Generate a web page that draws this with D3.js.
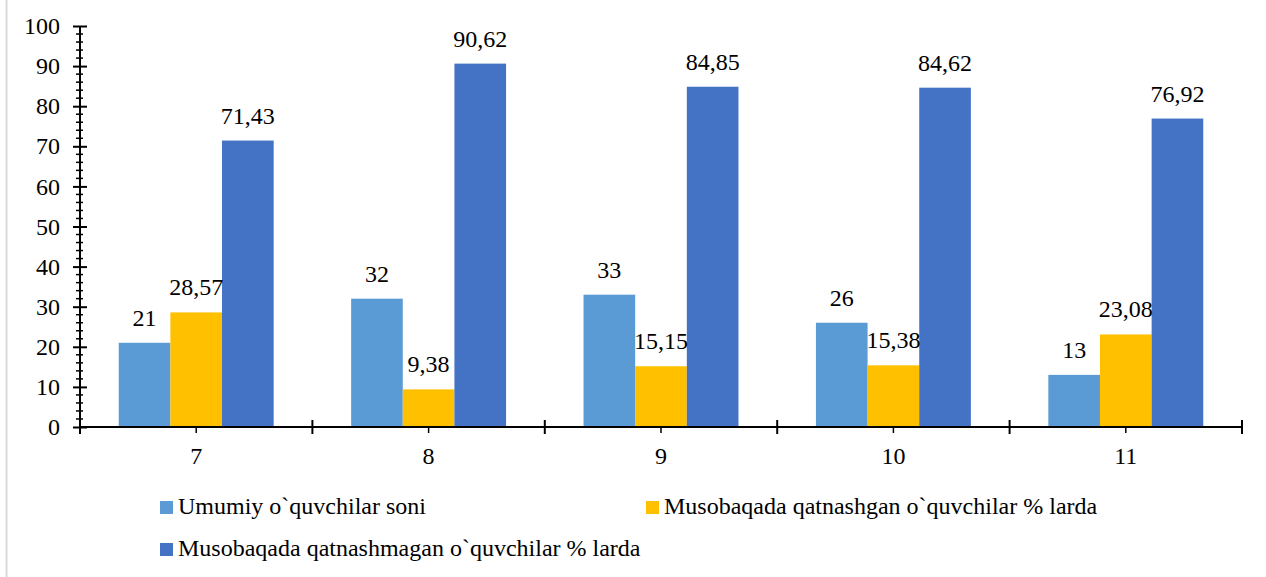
<!DOCTYPE html>
<html>
<head>
<meta charset="utf-8">
<script src="https://cdn.jsdelivr.net/npm/d3@7"></script>
<style>
  body { margin: 0; background: #fff; }
  svg text { font-family: "Liberation Serif", "Times New Roman", serif; fill: #000; }
</style>
</head>
<body>
<svg width="1266" height="577" font-family="Liberation Serif"></svg>
<script>
// data
var categories = ["7", "8", "9", "10", "11"];
var seriesNames = [
  "Umumiy o`quvchilar soni",
  "Musobaqada qatnashgan o`quvchilar % larda",
  "Musobaqada qatnashmagan o`quvchilar % larda"
];
var totalPupils = [21, 32, 33, 26, 13];
var tookPart = [28.57, 9.38, 15.15, 15.38, 23.08];
var notTookPart = [71.43, 90.62, 84.85, 84.62, 76.92];
var yTicks = [0, 10, 20, 30, 40, 50, 60, 70, 80, 90, 100];
var colors = ["#5b9bd5", "#ffc000", "#4472c4"];

var series = [totalPupils, tookPart, notTookPart];
var fmt = function(v) { return String(v).replace(".", ","); };

var svg = d3.select("svg");
var fontSize = 24;

// faint frame edge on the left
svg.append("line")
  .attr("x1", 6.5).attr("x2", 6.5).attr("y1", 0).attr("y2", 577)
  .attr("stroke", "#d9d9d9").attr("stroke-width", 2);

var plotLeft = 80, plotRight = 1242, plotTop = 26, plotBottom = 427;

var x0 = d3.scaleBand().domain(categories).range([plotLeft, plotRight]).padding(0);
var bw = x0.bandwidth();
var x1 = d3.scaleBand().domain(d3.range(3)).range([bw / 6, bw * 5 / 6]).padding(0);
var y = d3.scaleLinear().domain([0, 100]).range([plotBottom, plotTop]);

// bars
var groups = svg.append("g").selectAll("g")
  .data(categories)
  .enter().append("g")
  .attr("transform", function(d) { return "translate(" + x0(d) + ",0)"; });

groups.selectAll("rect")
  .data(function(d, i) { return series.map(function(s, j) { return {j: j, v: s[i]}; }); })
  .enter().append("rect")
  .attr("x", function(d) { return x1(d.j); })
  .attr("width", x1.bandwidth())
  .attr("y", function(d) { return y(d.v); })
  .attr("height", function(d) { return plotBottom - y(d.v); })
  .attr("fill", function(d) { return colors[d.j]; });

groups.selectAll("text")
  .data(function(d, i) { return series.map(function(s, j) { return {j: j, v: s[i]}; }); })
  .enter().append("text")
  .attr("x", function(d) { return x1(d.j) + x1.bandwidth() / 2; })
  .attr("y", function(d) { return y(d.v) - 17; })
  .attr("text-anchor", "middle")
  .style("font-size", fontSize + "px")
  .text(function(d) { return fmt(d.v); });

// y axis
var yAxis = svg.append("g")
  .attr("transform", "translate(" + plotLeft + ",0)")
  .call(d3.axisLeft(y).tickValues(yTicks).tickSize(7).tickPadding(13));
yAxis.attr("font-family", "Liberation Serif");
yAxis.select(".domain").remove();
yAxis.selectAll(".tick line").attr("x2", 7).attr("x1", -7).attr("stroke", "#000").attr("stroke-width", 2);
yAxis.selectAll(".tick text").style("font-size", fontSize + "px");

// minor y ticks
svg.append("g").selectAll("line")
  .data(d3.range(0, 101, 2).filter(function(v) { return v % 10 !== 0; }))
  .enter().append("line")
  .attr("x1", plotLeft - 4).attr("x2", plotLeft + 3)
  .attr("y1", function(d) { return y(d); }).attr("y2", function(d) { return y(d); })
  .attr("stroke", "#000").attr("stroke-width", 1.5);

svg.append("line")
  .attr("x1", plotLeft).attr("x2", plotLeft).attr("y1", plotTop).attr("y2", plotBottom)
  .attr("stroke", "#000").attr("stroke-width", 2);

// x axis
var xAxis = svg.append("g")
  .attr("transform", "translate(0," + plotBottom + ")")
  .call(d3.axisBottom(x0).tickSize(6).tickPadding(14));
xAxis.attr("font-family", "Liberation Serif");
xAxis.select(".domain").remove();
xAxis.selectAll(".tick line").attr("stroke", "#000").attr("stroke-width", 1.5);
xAxis.selectAll(".tick text").style("font-size", fontSize + "px");

svg.append("g").selectAll("line")
  .data(d3.range(categories.length + 1))
  .enter().append("line")
  .attr("x1", function(d) { return plotLeft + d * bw; })
  .attr("x2", function(d) { return plotLeft + d * bw; })
  .attr("y1", plotBottom - 7).attr("y2", plotBottom + 7)
  .attr("stroke", "#000").attr("stroke-width", 2);

svg.append("line")
  .attr("x1", plotLeft).attr("x2", plotRight).attr("y1", plotBottom).attr("y2", plotBottom)
  .attr("stroke", "#000").attr("stroke-width", 2);

// legend
var legendPos = [[160, 507], [646, 507], [160, 549]];
var legend = svg.append("g").selectAll("g")
  .data(seriesNames)
  .enter().append("g")
  .attr("transform", function(d, i) { return "translate(" + legendPos[i][0] + "," + legendPos[i][1] + ")"; });
legend.append("rect")
  .attr("x", 0).attr("y", -6).attr("width", 13).attr("height", 13)
  .attr("fill", function(d, i) { return colors[i]; });
legend.append("text")
  .attr("x", 18).attr("y", 7)
  .style("font-size", fontSize + "px")
  .text(function(d) { return d; });
</script>
</body>
</html>
